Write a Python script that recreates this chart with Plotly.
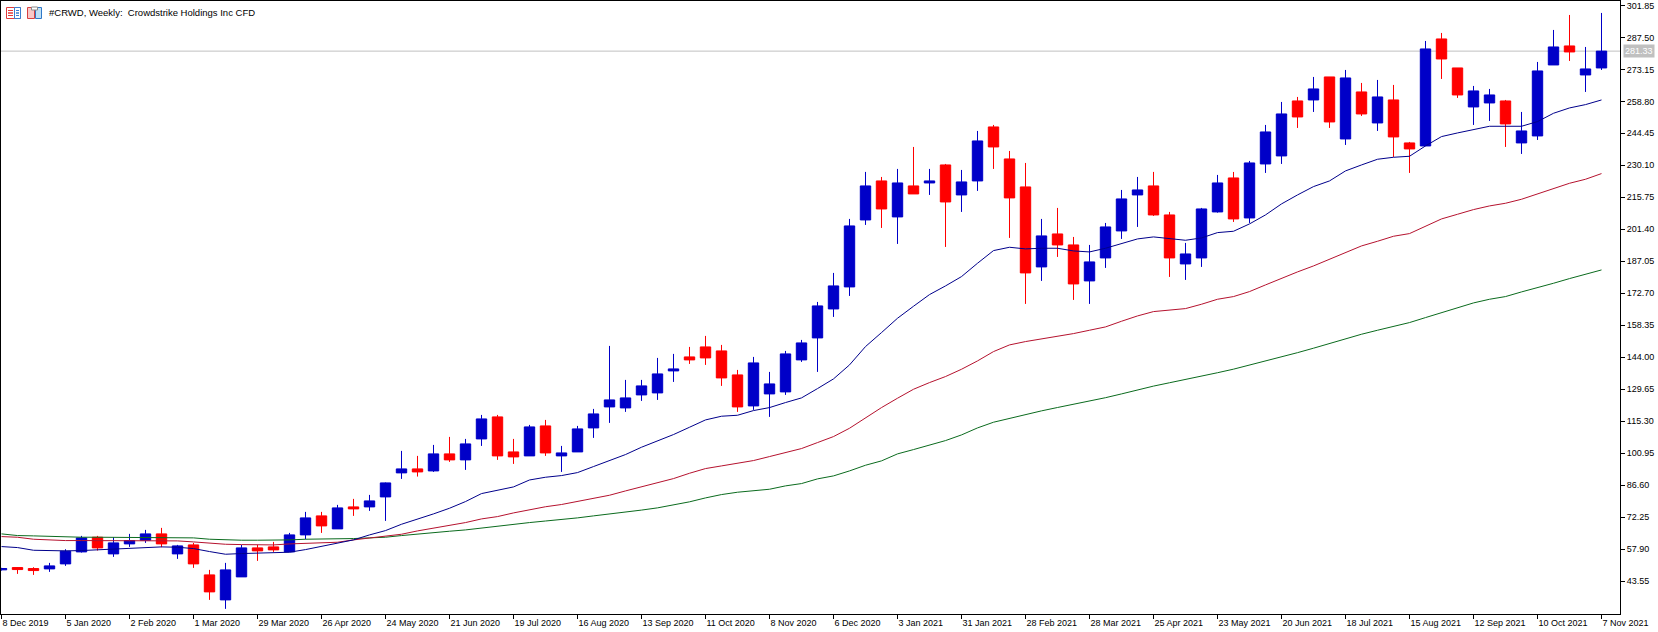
import pandas as pd
import plotly.graph_objects as go

TITLE = "#CRWD, Weekly:\u00a0\u00a0Crowdstrike Holdings Inc CFD"
LAST_PRICE = 281.33
FIRST_WEEK = "2019-12-08"
WEEKS = 101

opens = [48.70, 49.73, 49.28, 49.13, 51.37, 56.75, 63.33, 55.86, 60.34, 61.99,
         64.83, 55.86, 59.89, 46.44, 35.23, 45.54, 58.55, 59.00, 56.75, 64.38,
         72.90, 67.07, 76.93, 76.93, 81.41, 92.18, 93.97, 93.07, 100.70, 98.01,
         107.42, 117.29, 101.59, 99.80, 113.25, 99.80, 101.59, 112.35, 121.77, 121.32,
         127.15, 128.05, 137.91, 144.19, 148.67, 146.88, 136.12, 122.22, 127.60, 128.50,
         142.85, 152.71, 165.71, 175.58, 205.62, 223.11, 206.97, 220.87, 222.21, 230.28,
         216.83, 223.11, 247.32, 232.97, 220.42, 184.55, 199.34, 194.41, 178.27, 188.58,
         200.69, 216.83, 220.87, 207.86, 185.89, 188.58, 209.21, 224.45, 206.51, 230.73,
         234.32, 258.98, 259.43, 269.74, 241.94, 263.02, 249.11, 259.43, 240.15, 238.80,
         286.78, 273.78, 256.29, 258.08, 258.98, 240.15, 243.29, 275.12, 283.64, 270.64,
         273.78]
closes = [49.30, 48.83, 48.38, 50.48, 57.05, 63.03, 58.55, 60.79, 61.84, 64.83,
          60.34, 59.44, 51.37, 38.82, 48.68, 58.55, 57.20, 57.65, 64.38, 72.00,
          68.41, 76.48, 76.04, 79.62, 87.69, 93.97, 92.62, 100.70, 98.01, 105.18,
          116.39, 99.80, 99.35, 112.80, 101.14, 101.14, 111.91, 118.63, 124.91, 125.81,
          131.19, 136.57, 138.81, 142.85, 143.74, 134.77, 121.77, 141.50, 132.08, 145.54,
          150.47, 167.06, 176.03, 202.93, 220.87, 210.55, 222.21, 217.28, 223.11, 213.69,
          222.66, 241.04, 238.35, 215.49, 181.86, 198.45, 194.41, 176.92, 186.79, 202.48,
          215.04, 219.07, 207.86, 188.58, 190.37, 210.55, 222.21, 206.07, 231.18, 245.08,
          253.15, 251.80, 264.36, 249.56, 269.29, 253.15, 260.77, 242.84, 237.46, 282.30,
          277.81, 261.67, 263.47, 261.67, 248.67, 245.53, 272.43, 283.19, 280.95, 273.33,
          281.33]
highs = [49.60, 49.88, 49.88, 51.82, 57.95, 63.93, 63.93, 63.33, 64.83, 66.62,
         67.52, 59.89, 60.79, 48.68, 51.82, 59.89, 59.89, 61.24, 65.27, 74.69,
         74.69, 77.83, 80.52, 82.31, 87.90, 102.04, 99.80, 104.73, 108.32, 107.42,
         118.18, 118.18, 107.42, 113.70, 115.94, 104.28, 113.25, 120.87, 149.12, 133.88,
         133.88, 143.74, 145.54, 148.67, 153.61, 149.57, 138.36, 144.19, 137.46, 146.88,
         151.81, 168.85, 181.86, 206.07, 227.15, 224.90, 228.49, 238.35, 228.49, 230.73,
         228.04, 245.53, 248.22, 236.56, 231.18, 206.07, 211.00, 197.99, 194.41, 204.27,
         219.07, 224.90, 227.15, 209.21, 195.31, 211.00, 225.80, 227.14, 232.07, 248.22,
         258.53, 260.77, 269.74, 269.74, 272.88, 267.05, 268.40, 266.16, 240.60, 285.88,
         289.47, 273.78, 265.71, 264.36, 259.43, 254.05, 276.47, 290.82, 297.54, 283.19,
         298.44]
lows = [48.40, 46.89, 46.44, 47.79, 50.48, 56.46, 57.35, 54.51, 58.99, 60.79,
        58.85, 53.62, 49.58, 35.23, 31.20, 45.54, 52.72, 56.75, 56.75, 62.43,
        65.27, 67.07, 72.90, 75.14, 70.65, 89.48, 90.53, 92.62, 97.11, 93.52,
        104.28, 98.01, 96.21, 99.80, 99.80, 92.62, 101.59, 107.87, 114.60, 119.53,
        124.46, 124.91, 132.98, 141.05, 140.60, 131.19, 119.53, 120.43, 117.29, 127.15,
        141.95, 137.46, 162.13, 171.54, 203.38, 202.03, 194.86, 217.28, 216.83, 193.51,
        209.21, 218.63, 228.49, 197.55, 167.96, 178.27, 189.03, 169.75, 167.96, 184.10,
        197.10, 202.48, 207.41, 180.06, 178.72, 184.55, 208.90, 204.72, 204.27, 226.70,
        230.73, 246.87, 254.05, 246.87, 239.25, 252.25, 245.53, 233.87, 226.70, 238.80,
        268.85, 260.33, 248.22, 250.01, 238.35, 235.21, 241.49, 275.12, 276.92, 263.02,
        272.88]

# Moving averages, one value per week
ma_fast = [59.14, 58.69, 57.49, 57.20, 57.20, 57.35, 57.65, 57.94, 58.54, 58.84,
           58.99, 58.84, 58.24, 56.90, 55.70, 56.00, 56.15, 56.15, 56.60, 57.79,
           59.14, 60.78, 62.13, 64.37, 66.31, 69.15, 71.40, 73.79, 76.33, 79.32,
           82.90, 84.25, 85.89, 89.00, 90.23, 90.98, 92.32, 95.02, 97.71, 100.40,
           103.69, 106.38, 109.37, 112.65, 115.94, 117.59, 118.03, 120.13, 121.47, 123.72,
           125.81, 129.99, 134.33, 140.60, 148.83, 155.10, 161.53, 166.91, 172.14, 176.03,
           180.21, 186.19, 191.87, 193.37, 192.62, 192.92, 192.92, 191.72, 191.27, 192.92,
           195.01, 197.10, 198.00, 197.10, 196.50, 197.55, 199.94, 200.54, 203.83, 207.87,
           212.80, 216.83, 220.57, 223.11, 227.60, 230.28, 232.83, 233.72, 234.17, 238.81,
           243.00, 244.63, 245.98, 247.62, 247.62, 247.62, 249.72, 253.45, 255.84, 257.34,
           259.43]
ma_mid = [63.62, 63.32, 62.43, 61.98, 61.83, 61.83, 61.83, 61.83, 61.98, 61.98,
          61.98, 61.68, 61.23, 60.63, 60.18, 60.03, 59.88, 59.88, 60.33, 60.63,
          60.63, 61.08, 62.13, 62.87, 63.62, 64.67, 66.16, 67.36, 68.56, 69.90,
          71.54, 72.59, 74.23, 75.60, 77.00, 78.00, 79.30, 80.90, 82.16, 84.10,
          85.90, 87.84, 89.63, 92.02, 94.12, 95.31, 96.36, 97.71, 99.50, 101.15,
          103.09, 105.78, 108.47, 112.20, 116.99, 121.47, 125.66, 129.69, 132.68, 135.38,
          138.66, 142.40, 146.58, 149.57, 151.07, 152.26, 153.31, 154.65, 156.15, 157.64,
          160.18, 162.57, 164.52, 165.12, 165.86, 167.81, 170.05, 171.25, 173.49, 176.48,
          179.47, 182.31, 184.99, 187.98, 190.97, 193.96, 196.06, 198.30, 199.50, 202.63,
          206.07, 208.16, 210.26, 211.90, 213.10, 214.89, 217.28, 219.82, 222.06, 223.86,
          226.40]
ma_slow = [64.83, 64.08, 63.93, 63.63, 63.33, 63.33, 63.33, 63.33, 63.33, 63.33,
           63.33, 63.33, 63.03, 62.43, 62.13, 61.99, 61.99, 61.99, 62.13, 62.43,
           62.43, 62.58, 62.73, 63.03, 63.33, 64.07, 64.82, 65.42, 66.02, 66.61,
           67.51, 68.11, 69.30, 69.90, 70.60, 71.20, 72.00, 72.90, 73.70, 74.60,
           75.50, 76.50, 77.70, 79.20, 80.96, 82.46, 83.51, 84.25, 84.85, 86.35,
           87.39, 89.49, 90.83, 93.07, 95.61, 97.56, 100.70, 102.64, 104.73, 106.67,
           109.21, 112.35, 114.90, 116.69, 118.40, 120.00, 121.50, 122.90, 124.40, 125.90,
           127.60, 129.40, 131.10, 132.60, 134.00, 135.50, 137.10, 138.70, 140.50, 142.30,
           144.20, 146.10, 148.10, 150.20, 152.26, 154.36, 156.15, 157.80, 159.59, 161.83,
           164.07, 166.46, 168.41, 170.05, 171.25, 173.34, 175.13, 177.22, 179.32, 181.26,
           183.20]

price_ticks = [43.55, 57.90, 72.25, 86.60, 100.95, 115.30, 129.65, 144.00, 158.35,
               172.70, 187.05, 201.40, 215.75, 230.10, 244.45, 258.80, 273.15, 287.50, 301.85]

WIDTH, HEIGHT = 1658, 632
M_L, M_R, M_T, M_B = 1, 38, 1, 18
PLOT_W = WIDTH - M_L - M_R
PLOT_H = HEIGHT - M_T - M_B
PX_PER_WEEK = 16

weeks = pd.date_range(FIRST_WEEK, periods=WEEKS, freq="7D")
date_ticks = weeks[::4]
date_labels = [f"{d.day} {d.strftime('%b %Y')}" for d in date_ticks]
# Half a pixel of lead keeps the one-pixel wicks on whole pixel columns
x_start = weeks[0] - pd.Timedelta(days=7 * 0.5 / PX_PER_WEEK)
x_end = x_start + pd.Timedelta(days=7 * PLOT_W / PX_PER_WEEK)

UP = "#0000C8"
DOWN = "#FF0000"
FONT = "Liberation Sans"
AXIS_SIZE = 9

fig = go.Figure()
fig.add_trace(go.Candlestick(
    x=weeks, open=opens, high=highs, low=lows, close=closes,
    increasing=dict(line=dict(color=UP, width=1), fillcolor=UP),
    decreasing=dict(line=dict(color=DOWN, width=1), fillcolor=DOWN),
    whiskerwidth=0, showlegend=False,
))
for series, colour in ((ma_slow, "#0B6B1E"), (ma_mid, "#B5122E"), (ma_fast, "#00008B")):
    fig.add_trace(go.Scatter(x=weeks, y=series, mode="lines",
                             line=dict(color=colour, width=1), showlegend=False))


def px_x(x):
    return (x - M_L) / PLOT_W


def px_y(y):
    return 1 - (y - M_T) / PLOT_H


def icon_rect(x0, y0, x1, y1, line=None, fill=None):
    return dict(type="rect", xref="paper", yref="paper", layer="above",
                x0=px_x(x0), x1=px_x(x1), y0=px_y(y0), y1=px_y(y1),
                line=dict(color=line or "rgba(0,0,0,0)", width=1),
                fillcolor=fill or "rgba(0,0,0,0)")


shapes = [dict(type="line", xref="paper", yref="y", x0=0, x1=1, y0=LAST_PRICE, y1=LAST_PRICE,
               line=dict(color="#C0C0C0", width=1), layer="below")]
# Toolbar glyphs beside the chart title
shapes += [icon_rect(6.5, 7.5, 20.5, 18.5, line="#E23A3A", fill="#FFFFFF"),
           icon_rect(14.5, 7.5, 20.5, 18.5, line="#3A7FD0", fill="#FFFFFF")]
for row in (10.5, 13, 15.5):
    shapes.append(icon_rect(8, row, 13, row, line="#E23A3A"))
    shapes.append(icon_rect(16, row, 19, row, line="#3A7FD0"))
shapes += [icon_rect(27.5, 7.5, 34.5, 18.5, line="#D84040", fill="#F9C8C8"),
           icon_rect(35.5, 7.5, 41.5, 18.5, line="#2F78C8", fill="#BFE0F5"),
           icon_rect(31.5, 7, 37.5, 10, line="#8A8A8A", fill="#FFFFFF")]

fig.update_layout(
    width=WIDTH, height=HEIGHT,
    margin=dict(l=M_L, r=M_R, t=M_T, b=M_B, pad=0),
    paper_bgcolor="white", plot_bgcolor="white",
    boxgap=0.35, boxgroupgap=0, hovermode=False,
    font=dict(family=FONT, size=AXIS_SIZE, color="black"),
    shapes=shapes,
    xaxis=dict(
        type="date", range=[x_start, x_end], rangeslider=dict(visible=False),
        tickmode="array", tickvals=list(date_ticks), ticktext=date_labels,
        ticks="outside", ticklen=4, tickwidth=1, tickcolor="black",
        ticklabelposition="outside right", tickangle=0,
        showgrid=False, zeroline=False,
        showline=True, linecolor="black", linewidth=1, mirror=True,
        tickfont=dict(family=FONT, size=AXIS_SIZE, color="black"),
    ),
    yaxis=dict(
        side="right", range=[28.9, 303.8],
        tickmode="array", tickvals=price_ticks, ticktext=[f"{t:.2f}" for t in price_ticks],
        ticks="outside", ticklen=4, tickwidth=1, tickcolor="black",
        showgrid=False, zeroline=False,
        showline=True, linecolor="black", linewidth=1, mirror=True,
        tickfont=dict(family=FONT, size=AXIS_SIZE, color="black"),
    ),
    annotations=[
        dict(text=TITLE, xref="paper", yref="paper", x=px_x(47), y=px_y(12.5),
             xanchor="left", yanchor="middle", showarrow=False,
             font=dict(family=FONT, size=9.5, color="black")),
        dict(text=f"{LAST_PRICE:.2f}", xref="paper", yref="y", x=px_x(1623), y=LAST_PRICE,
             xanchor="left", yanchor="middle", showarrow=False, bgcolor="#C0C0C0",
             borderpad=1, font=dict(family=FONT, size=AXIS_SIZE, color="white")),
    ],
)

fig.write_html("out.html")
